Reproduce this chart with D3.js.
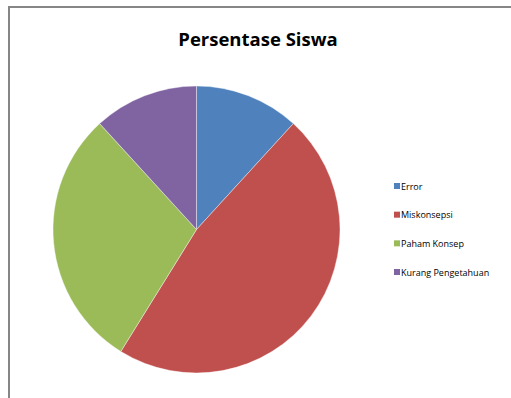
<!DOCTYPE html>
<html>
<head>
<meta charset="utf-8">
<script src="https://cdn.jsdelivr.net/npm/d3@7"></script>
<style>
  body { margin: 0; background: #fff; }
  svg { display: block; }
</style>
</head>
<body>
<svg id="chart"></svg>
<script>
const categories = ["Error", "Miskonsepsi", "Paham Konsep", "Kurang Pengetahuan"];
const values = [11.8, 47.1, 29.4, 11.8];
const colors = ["#4f81bd", "#c0504d", "#9bbb59", "#8064a2"];

const width = 511, height = 398;
const svg = d3.select("#chart").attr("width", width).attr("height", height);

// frame (chart area border, partly cut by the screenshot)
svg.append("path")
    .attr("d", `M9,${height} V7 H${width}`)
    .attr("fill", "none")
    .attr("stroke", "#868686")
    .attr("stroke-width", 2);

svg.append("text")
    .attr("x", 258)
    .attr("y", 46)
    .attr("text-anchor", "middle")
    .style("font-family", "'Open Sans', sans-serif")
    .style("font-weight", "bold")
    .style("font-size", "18.5px")
    .style("fill", "#000")
    .text("Persentase Siswa");

const cx = 196.5, cy = 229.5, radius = 143.5;

const pie = d3.pie().sort(null).value(d => d.value);
const arc = d3.arc().innerRadius(0).outerRadius(radius);
const data = categories.map((c, i) => ({ name: c, value: values[i] }));

const g = svg.append("g").attr("transform", `translate(${cx},${cy})`);
g.selectAll("path")
    .data(pie(data))
    .enter().append("path")
    .attr("d", arc)
    .attr("fill", (d, i) => colors[i])
    .attr("stroke", "#ffffff")
    .attr("stroke-width", 0.4);

// legend
const legendY = d3.scalePoint().domain(categories).range([186, 272]);
const legend = svg.append("g");
const items = legend.selectAll("g")
    .data(categories)
    .enter().append("g")
    .attr("transform", d => `translate(394,${legendY(d)})`);

items.append("rect")
    .attr("x", 0)
    .attr("y", -3)
    .attr("width", 6)
    .attr("height", 6)
    .attr("fill", (d, i) => colors[i]);

items.append("text")
    .attr("x", 7)
    .attr("y", 3.5)
    .style("font-family", "'Open Sans', sans-serif")
    .style("font-size", "9px")
    .style("fill", "#000")
    .text(d => d);
</script>
</body>
</html>
